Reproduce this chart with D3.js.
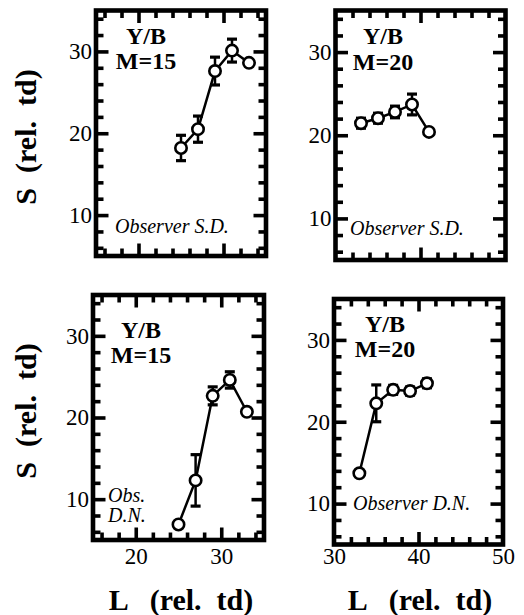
<!DOCTYPE html>
<html><head><meta charset="utf-8">
<script src="https://cdn.jsdelivr.net/npm/d3@7"></script>
<style>body{margin:0;background:#fff} svg{display:block}</style>
</head><body>
<svg id="c" width="524" height="615"></svg>
<script>
// ---- data ----
const xTL = [25, 27, 29, 31, 33];
const yTL = [18.2, 20.5, 27.6, 30.1, 28.6];
const eTL = [1.55, 1.6, 1.7, 1.4, 0];

const xTR = [33, 35, 37, 39, 41];
const yTR = [21.45, 22.05, 22.8, 23.7, 20.4];
const eTR = [0.6, 0.6, 0.7, 1.25, 0];

const xBL = [25, 27, 29, 31, 33];
const yBL = [6.9, 12.3, 22.65, 24.6, 20.7];
const eBL = [0, 3.15, 1.1, 1.0, 0];

const xBR = [33, 35, 37, 39, 41];
const yBR = [13.7, 22.25, 23.9, 23.75, 24.7];
const eBR = [0, 2.25, 0.55, 0.5, 0.55];

const xDomLeft = [15, 35];
const xDomRight = [30, 50];
const yDom = [5, 35];
const yTickLabels = [10, 20, 30];
const xTickLabelsLeft = [20, 30];
const xTickLabelsRight = [30, 40, 50];
const colorLabel = "Y/B";
const mLabels = ["M=15", "M=20", "M=15", "M=20"];
const obsLabels = [["Observer S.D."], ["Observer S.D."], ["Obs.", "D.N."], ["Observer D.N."]];
const yTitle = "S  (rel.  td)";
const xTitle = "L   (rel.  td)";

// ---- layout ----
const FONT = "Liberation Serif";
const panels = [
  {x0: 96,    x1: 266,   y0: 10.5, y1: 256,   xd: xDomLeft,  xs: xTL, ys: yTL, es: eTL, xl: null,             m: 0},
  {x0: 335.5, x1: 505.5, y0: 10.5, y1: 260,   xd: xDomRight, xs: xTR, ys: yTR, es: eTR, xl: null,             m: 1},
  {x0: 93,    x1: 264,   y0: 295,  y1: 540,   xd: xDomLeft,  xs: xBL, ys: yBL, es: eBL, xl: xTickLabelsLeft,  m: 2},
  {x0: 334,   x1: 503,   y0: 299,  y1: 544.5, xd: xDomRight, xs: xBR, ys: yBR, es: eBR, xl: xTickLabelsRight, m: 3}
];
const textPos = [
  {cx: 146, b1: 44, b2: 69, ox: 115, ob: 233},
  {cx: 383, b1: 44, b2: 70, ox: 350, ob: 235},
  {cx: 141, b1: 338, b2: 363, ox: 108, ob: 502},
  {cx: 385, b1: 332, b2: 357, ox: 353, ob: 510}
];

const svg = d3.select("#c");

panels.forEach((p, i) => {
  const x = d3.scaleLinear().domain(p.xd).range([p.x0, p.x1]);
  const y = d3.scaleLinear().domain(yDom).range([p.y1, p.y0]);
  const g = svg.append("g");

  const xMinor = d3.range(p.xd[0] + 1 + (p.xd[0] % 2 === 0 ? 1 : 0), p.xd[1], 2).filter(v => v % 10 !== 0);
  const xMajor = d3.range(Math.ceil((p.xd[0] + 0.1) / 10) * 10, p.xd[1], 10);
  const yMinor = d3.range(6, 35, 2).filter(v => v % 10 !== 0);
  const yMajor = [10, 20, 30];

  function ticks(axisFn, vals, size, tr) {
    const a = g.append("g").attr("transform", tr)
      .call(axisFn.tickValues(vals).tickSize(size).tickFormat(""));
    a.select(".domain").remove();
    a.selectAll("line").attr("stroke", "#000").attr("stroke-width", 3.6);
  }
  ticks(d3.axisLeft(y), yMinor, -7.5, `translate(${p.x0},0)`);
  ticks(d3.axisLeft(y), yMajor, -12.5, `translate(${p.x0},0)`);
  ticks(d3.axisRight(y), yMinor, -7.5, `translate(${p.x1},0)`);
  ticks(d3.axisRight(y), yMajor, -12.5, `translate(${p.x1},0)`);
  ticks(d3.axisBottom(x), xMinor, -7.5, `translate(0,${p.y1})`);
  ticks(d3.axisBottom(x), xMajor, -12.5, `translate(0,${p.y1})`);
  ticks(d3.axisTop(x), xMinor, -7.5, `translate(0,${p.y0})`);
  ticks(d3.axisTop(x), xMajor, -12.5, `translate(0,${p.y0})`);

  const ya = g.append("g").attr("transform", `translate(${p.x0},0)`)
    .call(d3.axisLeft(y).tickValues(yTickLabels).tickSize(0).tickPadding(4));
  ya.select(".domain").remove();
  ya.selectAll("text").style("font-family", FONT).style("font-size", "23px").attr("fill", "#000");

  if (p.xl) {
    const xa = g.append("g").attr("transform", `translate(0,${p.y1})`)
      .call(d3.axisBottom(x).tickValues(p.xl).tickSize(0).tickPadding(548 - p.y1));
    xa.select(".domain").remove();
    xa.selectAll("text").style("font-family", FONT).style("font-size", "23px").attr("fill", "#000");
  }

  g.append("rect").attr("x", p.x0).attr("y", p.y0)
    .attr("width", p.x1 - p.x0).attr("height", p.y1 - p.y0)
    .attr("fill", "none").attr("stroke", "#000").attr("stroke-width", 4.6);

  const pts = p.xs.map((v, k) => ({x: v, y: p.ys[k], e: p.es[k]}));

  const eb = g.append("g");
  pts.filter(d => d.e > 0).forEach(d => {
    eb.append("line").attr("x1", x(d.x)).attr("x2", x(d.x))
      .attr("y1", y(d.y - d.e)).attr("y2", y(d.y + d.e))
      .attr("stroke", "#000").attr("stroke-width", 2.5);
    [d.y - d.e, d.y + d.e].forEach(v => {
      eb.append("line").attr("x1", x(d.x) - 5).attr("x2", x(d.x) + 5)
        .attr("y1", y(v)).attr("y2", y(v))
        .attr("stroke", "#000").attr("stroke-width", 3.2);
    });
  });

  g.append("path").datum(pts)
    .attr("d", d3.line().x(d => x(d.x)).y(d => y(d.y)))
    .attr("fill", "none").attr("stroke", "#000").attr("stroke-width", 2.5);

  g.selectAll("circle.pt").data(pts).join("circle")
    .attr("class", "pt")
    .attr("cx", d => x(d.x)).attr("cy", d => y(d.y)).attr("r", 5.7)
    .attr("fill", "#fff").attr("stroke", "#000").attr("stroke-width", 2.6);

  const t = textPos[i];
  g.append("text").attr("x", t.cx).attr("y", t.b1).attr("text-anchor", "middle")
    .style("font-family", FONT).style("font-weight", "bold").style("font-size", "24px").text(colorLabel);
  g.append("text").attr("x", t.cx).attr("y", t.b2).attr("text-anchor", "middle")
    .style("font-family", FONT).style("font-weight", "bold").style("font-size", "24px").text(mLabels[p.m]);
  obsLabels[i].forEach((s, k) => {
    g.append("text").attr("x", t.ox).attr("y", t.ob + k * 20)
      .style("font-family", FONT).style("font-style", "italic").style("font-size", "20px").text(s);
  });
});

[137, 411].forEach(cy => {
  svg.append("text").attr("transform", `translate(36,${cy}) rotate(-90)`)
    .attr("text-anchor", "middle").style("font-family", FONT).style("font-weight", "bold")
    .style("font-size", "30px").style("white-space", "pre").text(yTitle);
});
[181, 420].forEach(cx => {
  svg.append("text").attr("x", cx).attr("y", 610)
    .attr("text-anchor", "middle").style("font-family", FONT).style("font-weight", "bold")
    .style("font-size", "30px").style("white-space", "pre").text(xTitle);
});
</script>
</body></html>
